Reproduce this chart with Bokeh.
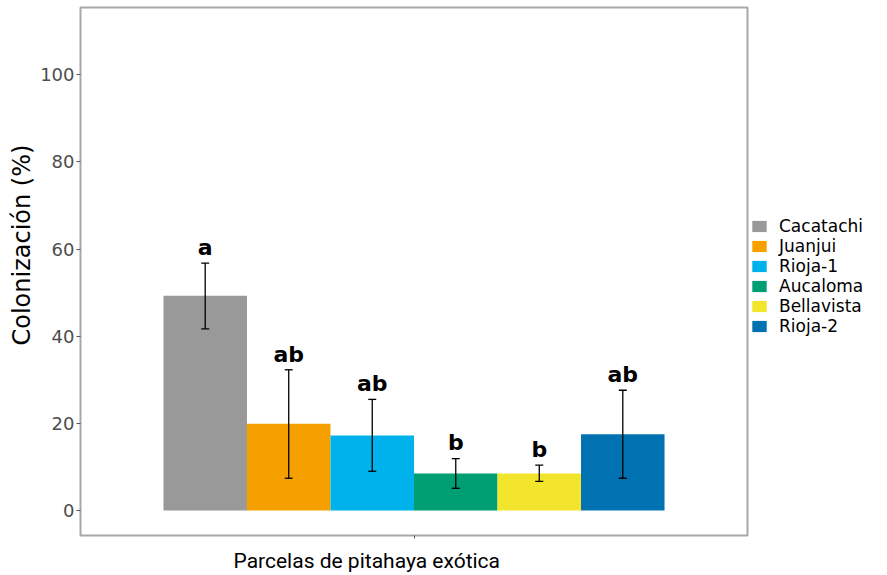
from bokeh.plotting import figure
from bokeh.models import (ColumnDataSource, Whisker, TeeHead, Legend, LegendItem,
                          FixedTicker, Range1d, Title)
from bokeh.core.properties import value
from bokeh.embed import file_html
from bokeh.resources import INLINE

# ---- data ----
sites = ["Cacatachi", "Juanjui", "Rioja-1", "Aucaloma", "Bellavista", "Rioja-2"]
means = [49.3, 19.9, 17.2, 8.5, 8.5, 17.5]
lower = [41.7, 7.4, 9.0, 5.1, 6.7, 7.4]
upper = [56.8, 32.3, 25.5, 11.9, 10.4, 27.6]
letters = ["a", "ab", "ab", "b", "b", "ab"]
colors = ["#999999", "#F6A000", "#00B2EB", "#009E73", "#F2E52B", "#0072B2"]
y_ticks = [0, 20, 40, 60, 80, 100]

# dodge positions within a single x group
bar_w = 0.15
xs = [(i - (len(sites) - 1) / 2) * bar_w for i in range(len(sites))]
label_y = [u + 3.6 for u in upper]

src = ColumnDataSource(dict(x=xs, site=sites, mean=means, lower=lower, upper=upper,
                            letter=letters, ly=label_y, color=colors))

FONT = "DejaVu Sans"

p = figure(frame_width=667, frame_height=528, output_backend="svg", toolbar_location=None,
           x_range=Range1d(-0.599, 0.599), y_range=Range1d(-5.74, 115.45),
           min_border_left=80, min_border_right=138, min_border_top=7, min_border_bottom=38)

p.background_fill_color = "white"
p.border_fill_color = "white"
p.outline_line_color = "#a8a8a8"
p.outline_line_width = 2
p.xgrid.visible = False
p.ygrid.visible = False

bars = p.vbar(x="x", top="mean", bottom=0, width=bar_w, color="color", line_color=None, source=src)

w = Whisker(base="x", upper="upper", lower="lower", source=src, level="overlay",
            line_color="black", line_width=1.3,
            upper_head=TeeHead(size=8, line_color="black", line_width=1.3),
            lower_head=TeeHead(size=8, line_color="black", line_width=1.3))
p.add_layout(w)

p.text(x="x", y="ly", text="letter", source=src, text_align="center", text_baseline="middle",
       text_font=value(FONT), text_font_size="22px", text_font_style="bold", text_color="black")

# y axis
p.yaxis.ticker = FixedTicker(ticks=y_ticks)
p.yaxis.axis_line_color = None
p.yaxis.major_tick_line_color = "#555555"
p.yaxis.major_tick_out = 4
p.yaxis.major_tick_in = 0
p.yaxis.minor_tick_line_color = None
p.yaxis.major_label_text_font = FONT
p.yaxis.major_label_text_font_size = "18px"
p.yaxis.major_label_text_color = "#4D4D4D"
p.yaxis.major_label_standoff = 2

yt = Title(text="Colonización (%)", align="left", offset=190,
           text_font=FONT, text_font_size="24px", text_font_style="normal",
           text_color="black", standoff=4)
p.add_layout(yt, "left")

# x axis: single tick, no tick label
p.xaxis.ticker = FixedTicker(ticks=[0])
p.xaxis.major_label_overrides = {0: " "}
p.xaxis.axis_line_color = None
p.xaxis.major_tick_line_color = "#555555"
p.xaxis.major_tick_out = 3
p.xaxis.major_tick_in = 0
p.xaxis.minor_tick_line_color = None
p.xaxis.major_label_text_font_size = "4px"
p.xaxis.major_label_standoff = 0

xt = Title(text="Parcelas de pitahaya exótica", align="left", offset=153,
           text_font="Roboto", text_font_size="21px", text_font_style="normal",
           text_color="black", standoff=0)
p.add_layout(xt, "below")

items = [LegendItem(label=s, renderers=[bars], index=i) for i, s in enumerate(sites)]
legend = Legend(items=items, location=(3, 199), orientation="vertical",
                glyph_width=18, glyph_height=14, label_height=14, spacing=0, padding=0,
                margin=0, label_standoff=11, label_text_font=FONT, label_text_font_size="17px",
                label_text_color="black", border_line_color=None, background_fill_alpha=0)
p.add_layout(legend, "right")

open("out.html", "w").write(file_html(p, INLINE))
